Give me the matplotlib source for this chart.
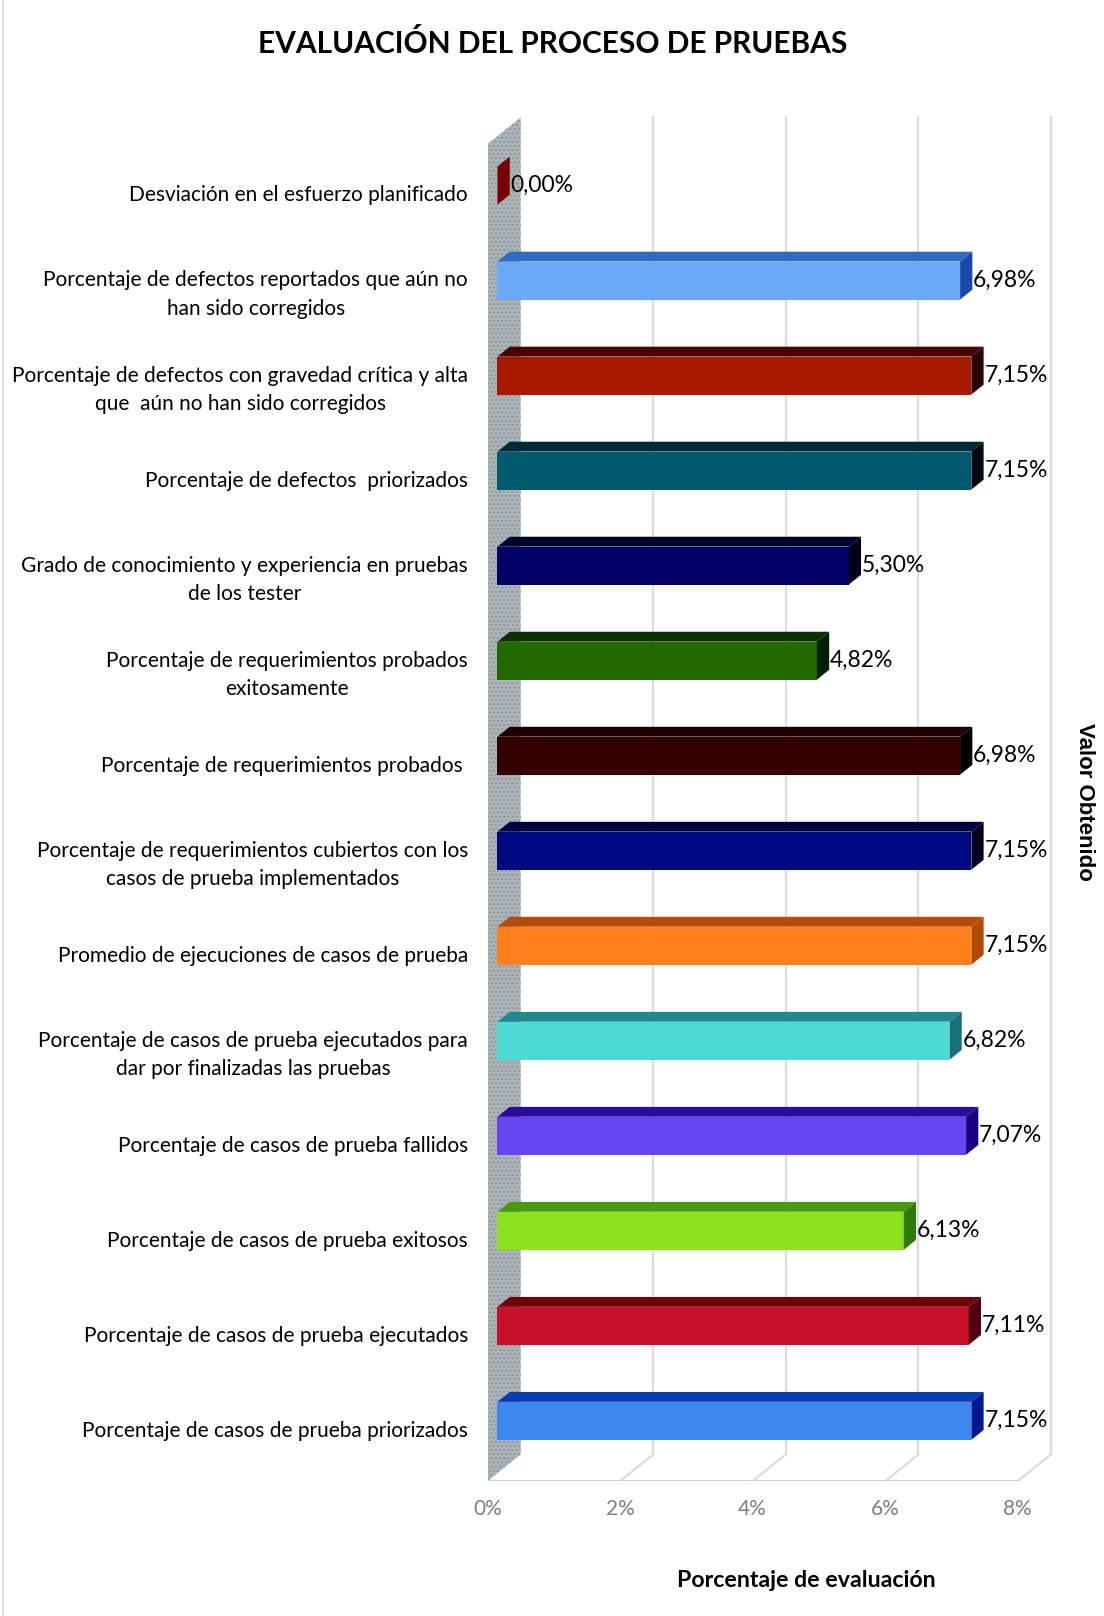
import matplotlib
matplotlib.use("Agg")
import matplotlib.pyplot as plt
from matplotlib.patches import Polygon
import numpy as np

# Datos (de arriba hacia abajo, como en el gráfico)
categorias = [
    "Desviación en el esfuerzo planificado",
    "Porcentaje de defectos reportados que aún no\nhan sido corregidos",
    "Porcentaje de defectos con gravedad crítica y alta\nque  aún no han sido corregidos",
    "Porcentaje de defectos  priorizados",
    "Grado de conocimiento y experiencia en pruebas\nde los tester",
    "Porcentaje de requerimientos probados\nexitosamente",
    "Porcentaje de requerimientos probados ",
    "Porcentaje de requerimientos cubiertos con los\ncasos de prueba implementados",
    "Promedio de ejecuciones de casos de prueba",
    "Porcentaje de casos de prueba ejecutados para\ndar por finalizadas las pruebas",
    "Porcentaje de casos de prueba fallidos",
    "Porcentaje de casos de prueba exitosos",
    "Porcentaje de casos de prueba ejecutados",
    "Porcentaje de casos de prueba priorizados",
]
valores = [0.00, 6.98, 7.15, 7.15, 5.30, 4.82, 6.98, 7.15, 7.15, 6.82, 7.07, 6.13, 7.11, 7.15]
etiquetas = ["0,00%", "6,98%", "7,15%", "7,15%", "5,30%", "4,82%", "6,98%",
             "7,15%", "7,15%", "6,82%", "7,07%", "6,13%", "7,11%", "7,15%"]

# colores: frente, tapa, lado
frente = ["#7a0000", "#6aa9f6", "#a81a00", "#005a70", "#000066", "#1f6b00", "#330000",
          "#000a80", "#ff7f1e", "#4dd9d4", "#6645ee", "#8be31f", "#c8102a", "#3d88ee"]
tapa = ["#5a0000", "#2e6cc0", "#4a0000", "#002a38", "#000030", "#0c3000", "#1a0000",
        "#000040", "#b84a08", "#1e8a90", "#2a0aa0", "#4a9a10", "#700008", "#0a3eb0"]
lado = ["#7a0000", "#1a4aa8", "#2a0000", "#000a10", "#000018", "#052000", "#000000",
        "#000020", "#b04a08", "#17707a", "#1a0080", "#2e7a0a", "#500010", "#001890"]

ticks = [0, 2, 4, 6, 8]
tick_labels = ["0%", "2%", "4%", "6%", "8%"]

n = len(categorias)
ys = np.arange(n)[::-1]  # la primera categoría arriba

# profundidad de la "caja" 3D (en unidades de datos)
DX, DY = 0.5, 0.28
d0, d1 = 0.3, 0.67
h = 0.4
ylo, yhi = -0.55, 13.52

fig = plt.figure(figsize=(11.04, 16.16), dpi=100)
fig.patch.set_facecolor("white")
ax = fig.add_axes([0.4416, 0.0835, 0.5163, 0.845])
ax.set_xlim(0, 8.6)
ax.set_ylim(ylo, yhi + 0.3)
for s in ax.spines.values():
    s.set_visible(False)

# pared izquierda (textura gris)
plt.rcParams['hatch.linewidth'] = 0.6
wall = Polygon([(0, ylo), (0, yhi), (DX, yhi + DY), (DX, ylo + DY)],
               facecolor="#a9b3b8", edgecolor="#7f8a90", hatch="....", lw=0, zorder=1)
ax.add_patch(wall)

# líneas de la cuadrícula (pared del fondo y piso)
for t in ticks[1:]:
    ax.plot([t + DX, t + DX], [ylo + DY, yhi + DY], color="#dcdcdc", lw=1.6, zorder=0.5)
    ax.plot([t, t + DX], [ylo, ylo + DY], color="#dcdcdc", lw=1.6, zorder=0.5)
ax.plot([0, 8], [ylo, ylo], color="#c4c4c4", lw=1.8, zorder=0.6)

# barras 3D
x0 = d0 * DX
dd = d1 - d0
yc = ys + d0 * DY
ax.barh(yc, valores, left=x0, height=h, color=frente, zorder=3)
for y, v, ct, cl in zip(yc, valores, tapa, lado):
    top = y + h / 2
    bot = y - h / 2
    ax.add_patch(Polygon([(x0, top), (x0 + v, top), (x0 + v + dd * DX, top + dd * DY),
                          (x0 + dd * DX, top + dd * DY)], facecolor=ct, lw=0, zorder=3))
    ax.add_patch(Polygon([(x0 + v, bot), (x0 + v, top), (x0 + v + dd * DX, top + dd * DY),
                          (x0 + v + dd * DX, bot + dd * DY)], facecolor=cl, lw=0, zorder=3))

# etiquetas de valores
for y, v, lab in zip(yc, valores, etiquetas):
    ax.text(x0 + v + dd * DX + 0.01, y, lab, ha="left", va="center",
            fontsize=16.5, family="Lato", color="black", zorder=4)

# ejes
ax.set_xticks(ticks)
ax.set_xticklabels(tick_labels, family="Lato", fontsize=15, color="#7f7f7f")
ax.tick_params(axis="x", length=0, pad=13)
ax.set_yticks(ys)
ax.set_yticklabels(categorias, family="Lato", fontsize=15, color="black")
ax.tick_params(axis="y", length=0, pad=14)
for lbl in ax.get_yticklabels():
    lbl.set_multialignment("center")
    lbl.set_linespacing(1.55)

fig.text(0.501, 0.973, "EVALUACIÓN DEL PROCESO DE PRUEBAS", ha="center", va="center",
         fontsize=21.5, fontweight="bold", family="Lato")
fig.text(0.730, 0.022, "Porcentaje de evaluación", ha="center", va="center",
         fontsize=16.7, fontweight="bold", family="Lato")
fig.text(0.982, 0.504, "Valor Obtenido", ha="center", va="center", rotation=-90,
         fontsize=16, fontweight="bold", family="Liberation Sans")

# borde tenue izquierdo
fig.add_artist(plt.Line2D([0.003, 0.003], [0, 1], color="#d9d9d9", lw=1.2))

fig.savefig("out.png", dpi=100, facecolor="white")
